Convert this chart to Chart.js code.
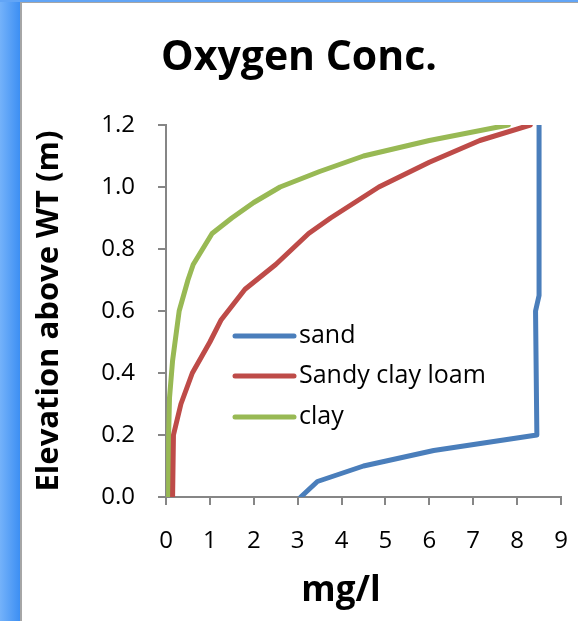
<!DOCTYPE html>
<html>
<head>
<meta charset="utf-8">
<title>Oxygen Conc.</title>
<script src="https://cdn.jsdelivr.net/npm/chart.js@4.4.1/dist/chart.umd.min.js"></script>
<style>
    html, body { margin: 0; padding: 0; width: 578px; height: 621px; overflow: hidden; background: #fff; }
    #strip { position: absolute; left: 0; top: 0; width: 20px; height: 621px; background: linear-gradient(to right, #74b2fa, #3d8ff3); }
    #topstrip { position: absolute; left: 0; top: 0; width: 578px; height: 2px; background: #62a5f6; }
    #panel { position: absolute; left: 20px; top: 2px; width: 558px; height: 619px; box-sizing: border-box;
             border-left: 2px solid #a6a6a6; border-top: 1px solid #a6a6a6; background: #fff; }
    #wrap { position: absolute; left: 0; top: 0; width: 578px; height: 621px; }
</style>
</head>
<body>
<div id="strip"></div>
<div id="topstrip"></div>
<div id="panel"></div>
<div id="wrap"><canvas id="oxygenChart"></canvas></div>
<script>
"use strict";

// ------------------------------------------------------- //
// Data
// ------------------------------------------------------ //
var seriesNames = ["sand", "Sandy clay loam", "clay"];
var seriesColors = ["#4a7ebb", "#be4b48", "#98b954"];

// mg/l
var sandX = [3.07, 3.45, 4.5, 6.1, 8.45, 8.42, 8.5, 8.5];
// elevation above WT (m)
var sandY = [0, 0.05, 0.1, 0.15, 0.2, 0.6, 0.65, 1.2];

var loamX = [0.15, 0.17, 0.34, 0.6, 1.0, 1.25, 1.8, 2.5, 3.25, 3.75, 4.85, 6.0, 7.15, 8.3];
var loamY = [0, 0.2, 0.3, 0.4, 0.5, 0.57, 0.67, 0.75, 0.85, 0.9, 1.0, 1.08, 1.15, 1.2];

var clayX = [0.06, 0.06, 0.08, 0.15, 0.3, 0.5, 0.62, 1.05, 1.5, 2.0, 2.6, 3.5, 4.5, 6.0, 7.8];
var clayY = [0, 0.2, 0.32, 0.44, 0.6, 0.7, 0.75, 0.85, 0.9, 0.95, 1.0, 1.05, 1.1, 1.15, 1.2];

var xTicks = [0, 1, 2, 3, 4, 5, 6, 7, 8, 9];
var yTicks = [0, 0.2, 0.4, 0.6, 0.8, 1.0, 1.2];

var chartTitle = "Oxygen Conc.";
var xTitleText = "mg/l";
var yTitleText = "Elevation above WT (m)";

var fontFamily = "'Open Sans', 'DejaVu Sans', sans-serif";
var axisGrey = "#868686";

function toPoints(xs, ys) {
    return xs.map(function (x, i) { return { x: x, y: ys[i] }; });
}

function makeSet(i, xs, ys) {
    return {
        label: seriesNames[i],
        data: toPoints(xs, ys),
        borderColor: seriesColors[i],
        backgroundColor: seriesColors[i],
        borderWidth: 5,
        borderJoinStyle: "round",
        borderCapStyle: "round",
        pointRadius: 0,
        tension: 0,
        fill: false
    };
}

// legend sits inside the plot, like the original
var insideLegend = {
    id: "insideLegend",
    afterDraw: function (chart) {
        var ctx = chart.ctx;
        var rows = [336, 376, 417];
        ctx.save();
        ctx.font = "25px " + fontFamily;
        ctx.textBaseline = "middle";
        ctx.textAlign = "left";
        chart.data.datasets.forEach(function (ds, i) {
            ctx.strokeStyle = ds.borderColor;
            ctx.lineWidth = 5;
            ctx.lineCap = "round";
            ctx.beginPath();
            ctx.moveTo(235, rows[i]);
            ctx.lineTo(294, rows[i]);
            ctx.stroke();
            ctx.fillStyle = "#000";
            ctx.fillText(ds.label, 299, rows[i]);
        });
        ctx.restore();
    }
};

// chart title and x title are not centred on the plot in the original
var titles = {
    id: "titles",
    afterDraw: function (chart) {
        var ctx = chart.ctx;
        ctx.save();
        ctx.fillStyle = "#000";
        ctx.textAlign = "center";
        ctx.textBaseline = "alphabetic";
        ctx.font = "bold 41px " + fontFamily;
        ctx.fillText(chartTitle, 299, 70);
        ctx.font = "bold 35px " + fontFamily;
        ctx.fillText(xTitleText, 341, 601);
        ctx.restore();
    }
};

var CANVAS = document.getElementById("oxygenChart");
var oxygenChart = new Chart(CANVAS, {
    type: "line",
    data: {
        datasets: [
            makeSet(0, sandX, sandY),
            makeSet(1, loamX, loamY),
            makeSet(2, clayX, clayY)
        ]
    },
    plugins: [insideLegend, titles],
    options: {
        responsive: true,
        maintainAspectRatio: false,
        animation: false,
        layout: { padding: { left: 22, right: 17, top: 125, bottom: 0 } },
        plugins: {
            legend: { display: false },
            tooltip: { enabled: false },
            title: { display: false }
        },
        scales: {
            x: {
                type: "linear",
                min: xTicks[0],
                max: xTicks[xTicks.length - 1],
                afterFit: function (scale) {
                    scale.height = 124;
                    scale.paddingLeft = 0;
                    scale.paddingRight = 0;
                },
                afterBuildTicks: function (scale) {
                    scale.ticks = xTicks.map(function (v) { return { value: v }; });
                },
                ticks: {
                    color: "#000",
                    padding: 22,
                    maxRotation: 0,
                    font: { family: fontFamily, size: 24, lineHeight: 1.2 }
                },
                grid: { drawOnChartArea: false, tickLength: 8, color: axisGrey, lineWidth: 2 },
                border: { color: axisGrey, width: 2 }
            },
            y: {
                type: "linear",
                min: yTicks[0],
                max: yTicks[yTicks.length - 1],
                afterFit: function (scale) {
                    scale.width = 144;
                    scale.paddingTop = 0;
                    scale.paddingBottom = 0;
                },
                afterBuildTicks: function (scale) {
                    scale.ticks = yTicks.map(function (v) { return { value: v }; });
                },
                ticks: {
                    color: "#000",
                    padding: 23,
                    font: { family: fontFamily, size: 24, lineHeight: 1.2 },
                    callback: function (v) { return Number(v).toFixed(1); }
                },
                title: {
                    display: true,
                    text: yTitleText,
                    color: "#000",
                    font: { family: fontFamily, size: 31, weight: "bold", lineHeight: 1.2 },
                    padding: { top: 9, bottom: 0 }
                },
                grid: { drawOnChartArea: false, tickLength: 8, color: axisGrey, lineWidth: 2 },
                border: { color: axisGrey, width: 2 }
            }
        }
    }
});
</script>
</body>
</html>
